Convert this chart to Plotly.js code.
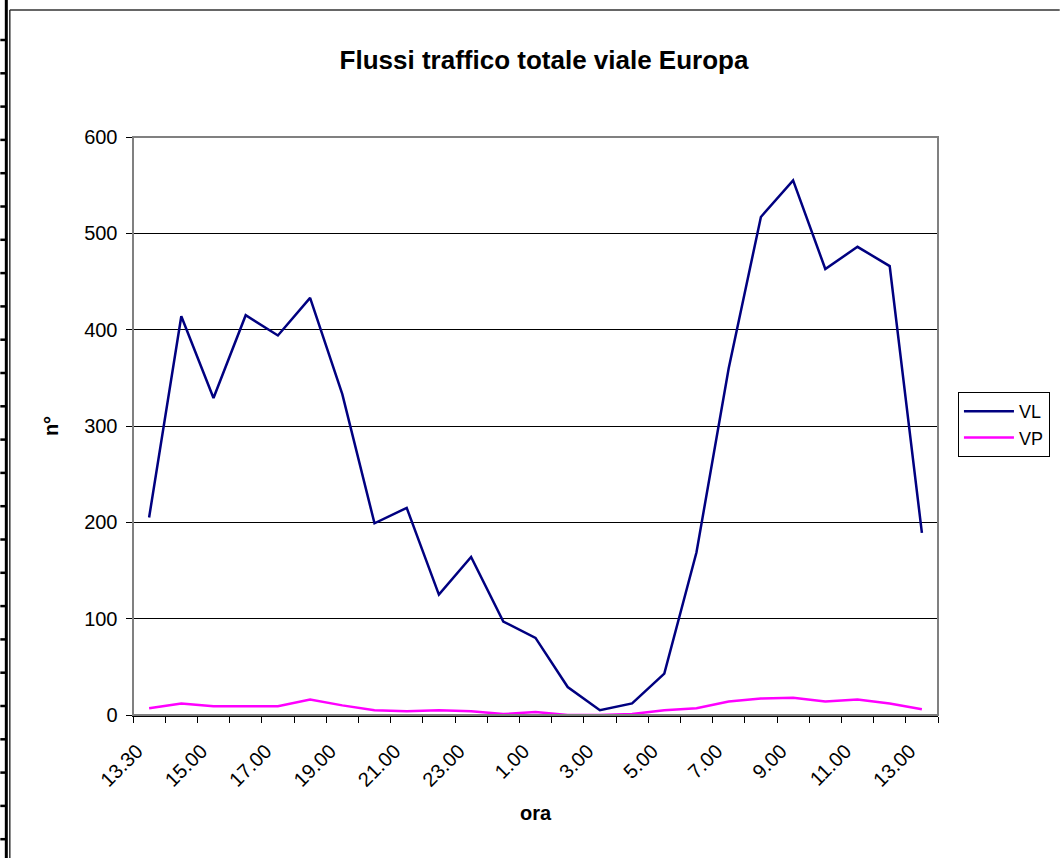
<!DOCTYPE html>
<html>
<head>
<meta charset="utf-8">
<script src="https://cdn.plot.ly/plotly-3.0.1.min.js"></script>
<style>html,body{margin:0;padding:0;background:#fff;}#chart{width:1062px;height:858px;}</style>
</head>
<body>
<div id="chart"></div>
<script>
const hours = ["13.30","14.00","15.00","16.00","17.00","18.00","19.00","20.00","21.00","22.00","23.00","0.00",
  "1.00","2.00","3.00","4.00","5.00","6.00","7.00","8.00","9.00","10.00","11.00","12.00","13.00"];
const tickLabels = ["13.30","","15.00","","17.00","","19.00","","21.00","","23.00","",
  "1.00","","3.00","","5.00","","7.00","","9.00","","11.00","","13.00"];
const vl = [205,414,329,415,394,433,333,199,215,125,164,97,80,29,5,12,43,169,360,517,555,463,486,466,189];
const vp = [7,12,9,9,9,16,10,5,4,5,4,1,3,0,0,1,5,7,14,17,18,14,16,12,6];

const W = 1062, H = 858;
const L = 133, R = 940, T = 137, B = 715;
const px = x => (x - L) / (R - L);
const py = y => (B - y) / (B - T);

const font = "Liberation Sans, Arial, sans-serif";

const shapes = [
  {type:"rect", xref:"paper", yref:"paper", x0:0, x1:1, y0:0, y1:1, line:{color:"#808080", width:2}, layer:"above"},
  {type:"line", xref:"paper", yref:"paper", x0:px(9.5), x1:px(1062), y0:py(10), y1:py(10), line:{color:"#333333", width:1.5}},
  {type:"line", xref:"paper", yref:"paper", x0:px(9.5), x1:px(9.5), y0:py(10), y1:py(858), line:{color:"#333333", width:1.5}},
  {type:"line", xref:"paper", yref:"paper", x0:px(6), x1:px(6), y0:py(0), y1:py(858), line:{color:"#000000", width:3}}
];
for (let k = 0; k < 25; k++) {
  const y = 40 + k * 33.3;
  shapes.push({type:"line", xref:"paper", yref:"paper", x0:px(0), x1:px(6), y0:py(y), y1:py(y), line:{color:"#000000", width:2.5}});
}

const traces = [
  {x: hours, y: vl, name: "VL", type: "scatter", mode: "lines", line: {color: "#000080", width: 2.5}},
  {x: hours, y: vp, name: "VP", type: "scatter", mode: "lines", line: {color: "#FF00FF", width: 2.5}}
];

const layout = {
  width: W, height: H,
  paper_bgcolor: "#ffffff", plot_bgcolor: "#ffffff",
  margin: {l: L, r: W - R, t: T, b: H - B, pad: 0},
  font: {family: font, size: 20, color: "#000"},
  title: {text: "<b>Flussi traffico totale viale Europa</b>", font: {family: font, size: 26, color: "#000"},
    x: 544 / W, xref: "container", xanchor: "center", y: 1 - 60 / H, yref: "container", yanchor: "middle"},
  showlegend: true,
  legend: {x: px(960), y: py(392), xanchor: "left", yanchor: "top", xref: "paper", yref: "paper",
    bordercolor: "#000", borderwidth: 1, bgcolor: "#fff", font: {family: font, size: 18, color: "#000"},
    tracegroupgap: 0, itemwidth: 50},
  xaxis: {
    type: "category", tickmode: "array", tickvals: hours, ticktext: tickLabels,
    tickson: "boundaries", ticks: "outside", ticklen: 6, tickcolor: "#000", tickwidth: 1,
    tickangle: -45, tickfont: {family: font, size: 20, color: "#000"},
    ticklabelstandoff: 15, ticklabelshift: -12,
    showline: true, linecolor: "#000", linewidth: 1.5, showgrid: false, zeroline: false,
    range: [-0.5, 24.5], automargin: false,
    title: {text: "<b>ora</b>", font: {family: font, size: 20, color: "#000"}, standoff: 16}
  },
  yaxis: {
    range: [0, 600], tickmode: "linear", tick0: 0, dtick: 100,
    ticks: "outside", ticklen: 6, tickcolor: "#000", tickwidth: 1,
    tickfont: {family: font, size: 20, color: "#000"}, ticklabelstandoff: 4,
    showline: true, linecolor: "#000", linewidth: 1.5,
    showgrid: true, gridcolor: "#000", gridwidth: 1, zeroline: false, automargin: false,
    title: {text: "<b>n°</b>", font: {family: font, size: 20, color: "#000"}, standoff: 20}
  },
  shapes: shapes
};

Plotly.newPlot("chart", traces, layout, {displayModeBar: false, staticPlot: true});
</script>
</body>
</html>
